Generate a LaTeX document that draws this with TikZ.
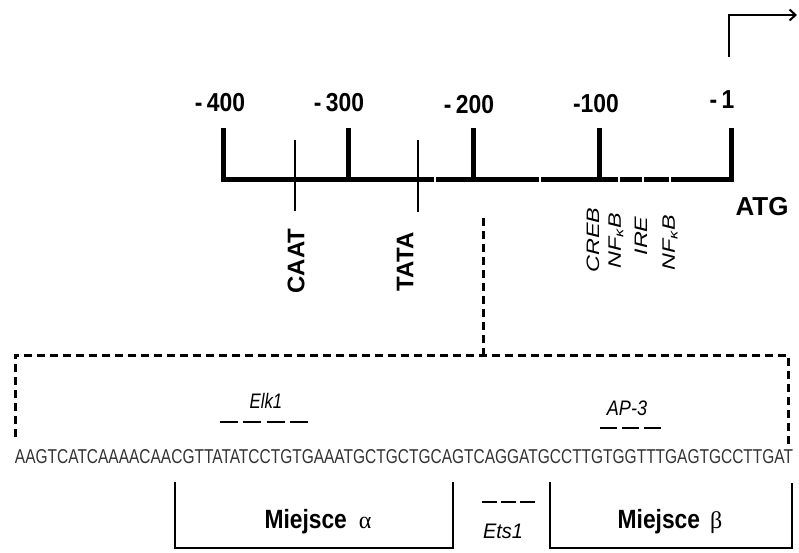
\documentclass[tikz,border=0pt]{standalone}
\usepackage{fontspec}
\setmainfont{Liberation Sans}
\newfontfamily\narrowfont[FakeStretch=0.88]{Liberation Sans}
\newfontfamily\wideitfont[FakeStretch=1.3]{Liberation Sans Italic}
\newfontfamily\greekfont{Liberation Serif}
\usetikzlibrary{arrows.meta}
\tikzset{
  ticklabel/.style={inner sep=0pt, font=\narrowfont\bfseries\fontsize{26}{26}\selectfont},
  majortick/.style={line width=5pt},
  minortick/.style={line width=1.5pt},
  sitelabel/.style={rotate=90, inner sep=0pt, font=\bfseries\fontsize{24}{24}\selectfont},
  factorlabel/.style={rotate=90, inner sep=0pt, font=\wideitfont\fontsize{18}{18}\selectfont},
  boxdash/.style={line width=3pt, dash pattern=on 8pt off 5pt},
  motif/.style={inner sep=0pt, font=\itshape\fontsize{21}{21}\selectfont},
  bracket/.style={line width=2pt, line join=miter},
  regionlabel/.style={inner sep=0pt, font=\bfseries\fontsize{24}{24}\selectfont},
}
\begin{document}
\begin{tikzpicture}[x=1pt,y=-1pt]
\useasboundingbox (0,0) rectangle (799,553);
% ticks / axis coordinates
\coordinate (t400top) at (223,128);
\coordinate (t400) at (223,180);
\coordinate (t300top) at (348,128);
\coordinate (t300) at (348,180);
\coordinate (t200top) at (473,128);
\coordinate (t200) at (473,180);
\coordinate (t100top) at (599,128);
\coordinate (t100) at (599,180);
\coordinate (t1top) at (731,128);
\coordinate (t1) at (731,180);
% main axis
\draw[majortick, line join=miter] (t400top) -- (t400) -- (t1) -- (t1top);
\draw[majortick] (t300top) -- (t300);
\draw[majortick] (t200top) -- (t200);
\draw[majortick] (t100top) -- (t100);
% small white gaps in the axis
\foreach \gx in {435,540,619,643,670}
  \fill[white] (\gx-1.3,176) rectangle (\gx+1.3,184);
% minor ticks
\coordinate (caattop) at (295,140);
\coordinate (caatbot) at (295,211);
\coordinate (tatatop) at (418,140);
\coordinate (tatabot) at (418,212);
\draw[minortick] (caattop) -- (caatbot);
\draw[minortick] (tatatop) -- (tatabot);
% tick labels
\node[ticklabel] (l400) at (220,103) {-\,400};
\node[ticklabel] (l300) at (339,103) {-\,300};
\node[ticklabel] (l200) at (469,105) {-\,200};
\node[ticklabel] (l100) at (596,104) {-100};
\node[ticklabel] (l1) at (722,100) {-\,1};
% transcription start arrow
\coordinate (tssbot) at (729,57);
\coordinate (tsscorner) at (729,15);
\coordinate (tssend) at (797,15);
\draw[line width=2.2pt, line join=miter, -{Straight Barb[length=6pt,width=11pt,line width=2pt]}] (tssbot) -- (tsscorner) -- (tssend);
\node[inner sep=0pt, font=\bfseries\fontsize{26}{26}\selectfont] (atg) at (762,207) {ATG};
% site labels
\node[sitelabel] (caat) at (296,261) {CAAT};
\node[sitelabel] (tata) at (405,262) {TATA};
\node[factorlabel] (creb) at (593,240) {CREB};
\node[factorlabel] (nfkb1) at (616,241) {NF\textsubscript{κ}B};
\node[factorlabel] (ire) at (641,236) {IRE};
\node[factorlabel] (nfkb2) at (670,243) {NF\textsubscript{κ}B};
% dashed zoom connector and box
\coordinate (zoomtop) at (483,218);
\coordinate (boxjoin) at (483,355);
\coordinate (boxtl) at (15,355);
\coordinate (boxbl) at (15,437);
\coordinate (boxtr) at (788,355);
\coordinate (boxbr) at (788,445);
\draw[boxdash] (zoomtop) -- (boxjoin);
\draw[boxdash] (boxbl) -- (boxtl) -- (boxtr) -- (boxbr);
% motifs
\node[motif] (elk1) at (266,401) {\scalebox{0.8}[1]{Elk1}};
\coordinate (elkA) at (220,422);
\coordinate (elkB) at (308,422);
\draw[line width=2.2pt, dash pattern=on 18pt off 5.3pt] (elkA) -- (elkB);
\node[motif] (ap3) at (627,408) {\scalebox{0.86}[1]{AP-3}};
\coordinate (apA) at (600,428);
\coordinate (apB) at (663,428);
\draw[line width=1.6pt, dash pattern=on 17pt off 5pt] (apA) -- (apB);
% sequence
\node[inner sep=0pt, text=black!80] (seq) at (404,457)
  {\resizebox{778pt}{14pt}{\fontsize{20}{20}\selectfont AAGTCATCAAAACAACGTTATATCCTGTGAAATGCTGCTGCAGTCAGGATGCCTTGTGGTTTGAGTGCCTTGAT}};
% brackets
\coordinate (aTL) at (175,482);
\coordinate (aBL) at (175,548);
\coordinate (aBR) at (453,548);
\coordinate (aTR) at (453,482);
\draw[bracket] (aTL) -- (aBL) -- (aBR) -- (aTR);
\coordinate (bTL) at (550,482);
\coordinate (bBL) at (550,548);
\coordinate (bBR) at (792,548);
\coordinate (bTR) at (792,483);
\draw[bracket] (bTL) -- (bBL) -- (bBR) -- (bTR);
\node[regionlabel] (alpha) at (318,522) {\scalebox{0.95}[1.1]{Miejsce}\hspace{12pt}{\greekfont\mdseries α}};
\node[regionlabel] (beta) at (670,522) {\scalebox{0.95}[1.1]{Miejsce}\hspace{10pt}{\greekfont\mdseries β}};
\coordinate (etsA) at (482,502);
\coordinate (etsB) at (535,502);
\draw[line width=2.2pt, dash pattern=on 15pt off 4pt] (etsA) -- (etsB);
\node[motif] (ets1) at (503,531) {\scalebox{0.95}[1]{Ets1}};
\end{tikzpicture}
\end{document}
